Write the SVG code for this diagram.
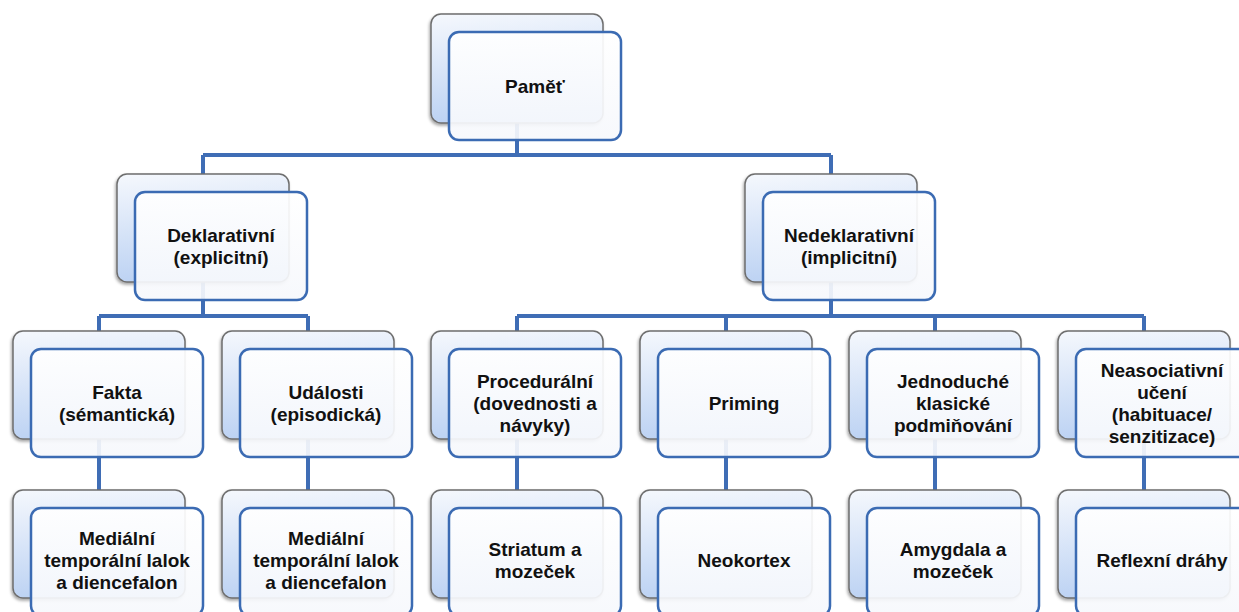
<svg xmlns="http://www.w3.org/2000/svg" width="1239" height="612" viewBox="0 0 1239 612">
<defs>
<linearGradient id="bg" x1="0" y1="0" x2="0.15" y2="1">
<stop offset="0" stop-color="#f5f8fd"/>
<stop offset="1" stop-color="#bcd2f3"/>
</linearGradient>
<linearGradient id="fg" x1="0" y1="0" x2="0" y2="1">
<stop offset="0" stop-color="#ffffff"/>
<stop offset="1" stop-color="#f6f8fc"/>
</linearGradient>
<filter id="sh" x="-10%" y="-10%" width="120%" height="125%">
<feDropShadow dx="-1" dy="2" stdDeviation="1.5" flood-color="#000" flood-opacity="0.35"/>
</filter>
</defs>
<style>
.back{fill:url(#bg);stroke:#6e6e6e;stroke-width:1.5;filter:url(#sh)}
.front{fill:url(#fg);fill-opacity:0.92;stroke:#3b6bb3;stroke-width:2.5}
.conn{fill:none;stroke:#3f6db5;stroke-width:4}
text{font-family:"Liberation Sans",Arial,sans-serif;font-weight:bold;font-size:19px;fill:#111;text-anchor:middle}
</style>
<rect width="1239" height="612" fill="#ffffff"/>
<g id="connectors" class="conn">
<path d="M517 123V155M203 155H831M203 155V174M831 155V174"/>
<path d="M203 282V316M99 316H308M99 316V331M308 316V331"/>
<path d="M831 282V316M517 316H1144M517 316V331M726 316V331M935 316V331M1144 316V331"/>
<path d="M99 439V490M308 439V490M517 439V490M726 439V490M935 439V490M1144 439V490"/>
</g>
<g id="pamet">
<rect class="back" x="431" y="14" width="172" height="109" rx="10"/>
<rect class="front" x="449" y="32" width="172" height="108" rx="10"/>
<text x="535" y="93">Paměť</text>
</g>
<g id="deklarativni">
<rect class="back" x="117" y="174" width="172" height="108" rx="10"/>
<rect class="front" x="135" y="192" width="172" height="108" rx="10"/>
<text x="221" y="242">Deklarativní</text>
<text x="221" y="264">(explicitní)</text>
</g>
<g id="nedeklarativni">
<rect class="back" x="745" y="174" width="172" height="108" rx="10"/>
<rect class="front" x="763" y="192" width="172" height="108" rx="10"/>
<text x="849" y="242">Nedeklarativní</text>
<text x="849" y="264">(implicitní)</text>
</g>
<g id="fakta">
<rect class="back" x="13" y="331" width="172" height="108" rx="10"/>
<rect class="front" x="31" y="349" width="172" height="108" rx="10"/>
<text x="117" y="399">Fakta</text>
<text x="117" y="421">(sémantická)</text>
</g>
<g id="udalosti">
<rect class="back" x="222" y="331" width="172" height="108" rx="10"/>
<rect class="front" x="240" y="349" width="172" height="108" rx="10"/>
<text x="326" y="399">Události</text>
<text x="326" y="421">(episodická)</text>
</g>
<g id="proceduralni">
<rect class="back" x="431" y="331" width="172" height="108" rx="10"/>
<rect class="front" x="449" y="349" width="172" height="108" rx="10"/>
<text x="535" y="388">Procedurální</text>
<text x="535" y="410">(dovednosti a</text>
<text x="535" y="432">návyky)</text>
</g>
<g id="priming">
<rect class="back" x="640" y="331" width="172" height="108" rx="10"/>
<rect class="front" x="658" y="349" width="172" height="108" rx="10"/>
<text x="744" y="410">Priming</text>
</g>
<g id="jednoduche">
<rect class="back" x="849" y="331" width="172" height="108" rx="10"/>
<rect class="front" x="867" y="349" width="172" height="108" rx="10"/>
<text x="953" y="388">Jednoduché</text>
<text x="953" y="410">klasické</text>
<text x="953" y="432">podmiňování</text>
</g>
<g id="neasociativni">
<rect class="back" x="1058" y="331" width="172" height="108" rx="10"/>
<rect class="front" x="1076" y="349" width="172" height="108" rx="10"/>
<text x="1162" y="377">Neasociativní</text>
<text x="1162" y="399">učení</text>
<text x="1162" y="421">(habituace/</text>
<text x="1162" y="443">senzitizace)</text>
</g>
<g id="medialni1">
<rect class="back" x="13" y="490" width="172" height="108" rx="10"/>
<rect class="front" x="31" y="508" width="172" height="108" rx="10"/>
<text x="117" y="545">Mediální</text>
<text x="117" y="567">temporální lalok</text>
<text x="117" y="589">a diencefalon</text>
</g>
<g id="medialni2">
<rect class="back" x="222" y="490" width="172" height="108" rx="10"/>
<rect class="front" x="240" y="508" width="172" height="108" rx="10"/>
<text x="326" y="545">Mediální</text>
<text x="326" y="567">temporální lalok</text>
<text x="326" y="589">a diencefalon</text>
</g>
<g id="striatum">
<rect class="back" x="431" y="490" width="172" height="108" rx="10"/>
<rect class="front" x="449" y="508" width="172" height="108" rx="10"/>
<text x="535" y="556">Striatum a</text>
<text x="535" y="578">mozeček</text>
</g>
<g id="neokortex">
<rect class="back" x="640" y="490" width="172" height="108" rx="10"/>
<rect class="front" x="658" y="508" width="172" height="108" rx="10"/>
<text x="744" y="567">Neokortex</text>
</g>
<g id="amygdala">
<rect class="back" x="849" y="490" width="172" height="108" rx="10"/>
<rect class="front" x="867" y="508" width="172" height="108" rx="10"/>
<text x="953" y="556">Amygdala a</text>
<text x="953" y="578">mozeček</text>
</g>
<g id="reflexni">
<rect class="back" x="1058" y="490" width="172" height="108" rx="10"/>
<rect class="front" x="1076" y="508" width="172" height="108" rx="10"/>
<text x="1162" y="567">Reflexní dráhy</text>
</g>
</svg>
